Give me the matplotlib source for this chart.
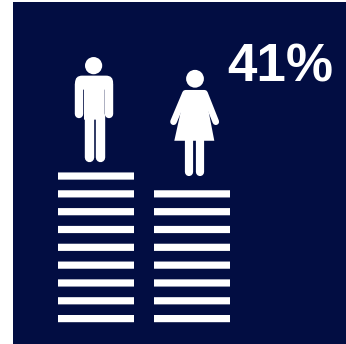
import matplotlib as mpl
mpl.rcParams['font.family'] = 'Liberation Sans'

import matplotlib.pyplot as plt
from matplotlib.patches import Circle, Polygon, Rectangle, FancyBboxPatch

#stacked levels under each figure
categories = ['men', 'women']
levels = [9, 8]
share_label = "41%"

#colors
navy = '#020d42'
white = '#ffffff'

#layout, everything is in pixels
width, height = 346, 344
centers = [96, 192]
bar_w = 76
bar_h = 7.2
step = 17.82
base = 322.2

fig = plt.figure(figsize=(3.46, 3.44), dpi=100)
ax = fig.add_axes([0, 0, 1, 1])
ax.set_xlim(0, width)
ax.set_ylim(height, 0)
ax.axis('off')

ax.add_patch(Rectangle((13, 2), width-13, height-2, color=navy, lw=0))

px = 0.72 #one pixel in points

def stroke(xs, ys, w):
	ax.plot(xs, ys, color=white, lw=w*px, solid_capstyle='round', solid_joinstyle='round')

#----------man----------#
def draw_man(cx, feet):
	top = feet-96
	ax.add_patch(Circle((cx-0.4, top), 8.6, color=white, lw=0))
	#shoulders
	ax.add_patch(FancyBboxPatch((cx-18.9, top+10), 38, 14, boxstyle="round,pad=0,rounding_size=7", color=white, lw=0))
	#arms
	stroke([cx-14.6, cx-14.6], [top+18, top+48], 8.4)
	stroke([cx+15.4, cx+15.4], [top+18, top+48], 8.4)
	#torso and legs
	ax.add_patch(Rectangle((cx-10, top+14), 20.6, 40, color=white, lw=0, snap=False))
	stroke([cx-5.3, cx-5.3], [top+50, top+91.2], 9.4)
	stroke([cx+5.9, cx+5.9], [top+50, top+91.2], 9.4)

#----------woman----------#
def draw_woman(cx, feet):
	top = feet-97
	ax.add_patch(Circle((cx, top), 8.9, color=white, lw=0))
	#dress
	ax.add_patch(Polygon([(cx-9.5, top+11.2), (cx+9.5, top+11.2), (cx+19.3, top+62), (cx-20.7, top+62)], color=white, lw=0))
	#arms
	stroke([cx-9.5, cx-21.5], [top+14.5, top+43], 6.6)
	stroke([cx+9.5, cx+20.8], [top+14.5, top+43], 6.6)
	#legs
	stroke([cx-6, cx-6], [top+60, top+93], 8.2)
	stroke([cx+4.5, cx+4.5], [top+60, top+93], 8.2)

icons = {'men': draw_man, 'women': draw_woman}
#horizontal shift of each figure from its stack, and the gap above the stack
icon_dx = {'men': -2, 'women': 3}
icon_gap = {'men': 10.8, 'women': 14.5}

#----------stacks----------#
for name, cx, n in zip(categories, centers, levels):
	for i in range(n):
		y = base-i*step
		ax.bar(cx, bar_h, width=bar_w, bottom=y-bar_h, color=white, lw=0, snap=False)
	stack_top = base-(n-1)*step-bar_h
	icons[name](cx+icon_dx[name], stack_top-icon_gap[name])

ax.text(333.5, 81, share_label, color=white, fontsize=38.2, fontweight='bold', ha='right', va='baseline')

fig.savefig("out.png", dpi=100)
